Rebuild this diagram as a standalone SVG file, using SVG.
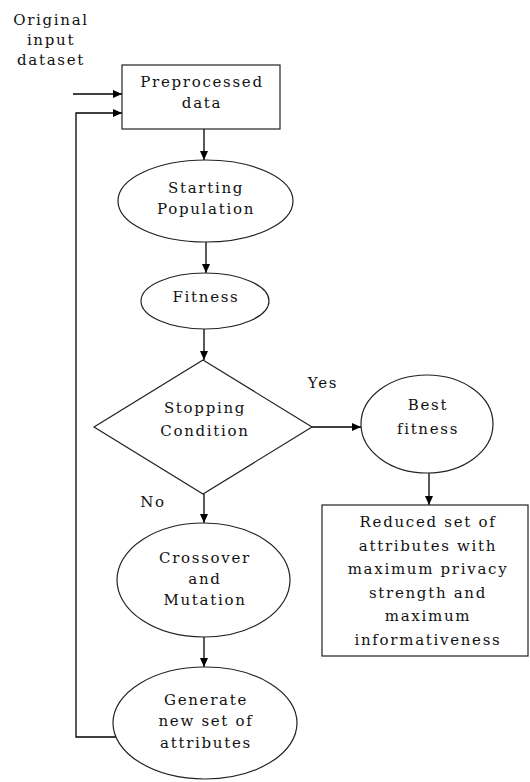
<svg xmlns="http://www.w3.org/2000/svg" width="530" height="782" viewBox="0 0 530 782">
<defs>
<marker id="ah" markerUnits="userSpaceOnUse" markerWidth="10" markerHeight="10" refX="9" refY="4" orient="auto">
<path d="M0,0 L9,4 L0,8 Z" fill="#000"/>
</marker>
<style>
.s{fill:#fff;stroke:#222;stroke-width:1.2}
.t{font-family:"DejaVu Serif","Liberation Serif",serif;font-size:15px;fill:#111;text-anchor:middle;letter-spacing:1.7px}
.c{fill:none;stroke:#000;stroke-width:1.3}
</style>
</defs>
<rect width="530" height="782" fill="#fff"/>
<g id="connectors">
<line class="c" x1="73" y1="94" x2="122" y2="94" marker-end="url(#ah)"/>
<polyline class="c" points="116,737 76,737 76,113 122,113" marker-end="url(#ah)"/>
<line class="c" x1="204" y1="129" x2="204" y2="160" marker-end="url(#ah)"/>
<line class="c" x1="206" y1="242" x2="206" y2="273" marker-end="url(#ah)"/>
<line class="c" x1="204" y1="329" x2="204" y2="360" marker-end="url(#ah)"/>
<line class="c" x1="312" y1="427" x2="361" y2="427" marker-end="url(#ah)"/>
<line class="c" x1="429" y1="473" x2="429" y2="505" marker-end="url(#ah)"/>
<line class="c" x1="204" y1="494" x2="204" y2="523" marker-end="url(#ah)"/>
<line class="c" x1="204" y1="637" x2="204" y2="667" marker-end="url(#ah)"/>
<text class="t" x="323" y="388">Yes</text>
<text class="t" x="153" y="507">No</text>
</g>
<g id="input">
<text class="t" x="51" y="25">Original</text>
<text class="t" x="51" y="45">input</text>
<text class="t" x="51" y="65">dataset</text>
</g>
<g id="preprocessed">
<rect class="s" x="122" y="65" width="158" height="64"/>
<text class="t" x="202" y="87">Preprocessed</text>
<text class="t" x="202" y="108">data</text>
</g>
<g id="starting">
<ellipse class="s" cx="205.5" cy="201" rx="87.5" ry="41"/>
<text class="t" x="206" y="193">Starting</text>
<text class="t" x="206" y="214">Population</text>
</g>
<g id="fitness">
<ellipse class="s" cx="205" cy="301" rx="64" ry="28"/>
<text class="t" x="206" y="302">Fitness</text>
</g>
<g id="stopping">
<polygon class="s" points="203,360 312,427 203,494 94,427"/>
<text class="t" x="205" y="413">Stopping</text>
<text class="t" x="205" y="436">Condition</text>
</g>
<g id="best">
<ellipse class="s" cx="427" cy="424" rx="66" ry="49"/>
<text class="t" x="428" y="410">Best</text>
<text class="t" x="428" y="434">fitness</text>
</g>
<g id="reduced">
<rect class="s" x="322" y="505" width="206" height="151"/>
<text class="t" x="428" y="527">Reduced set of</text>
<text class="t" x="428" y="551">attributes with</text>
<text class="t" x="428" y="574">maximum privacy</text>
<text class="t" x="428" y="598">strength and</text>
<text class="t" x="428" y="621">maximum</text>
<text class="t" x="428" y="645">informativeness</text>
</g>
<g id="crossover">
<ellipse class="s" cx="203.5" cy="580" rx="86.5" ry="57"/>
<text class="t" x="205" y="563">Crossover</text>
<text class="t" x="205" y="584">and</text>
<text class="t" x="205" y="605">Mutation</text>
</g>
<g id="generate">
<ellipse class="s" cx="205" cy="723" rx="92" ry="56"/>
<text class="t" x="206" y="705">Generate</text>
<text class="t" x="206" y="726">new set of</text>
<text class="t" x="206" y="748">attributes</text>
</g>
</svg>
